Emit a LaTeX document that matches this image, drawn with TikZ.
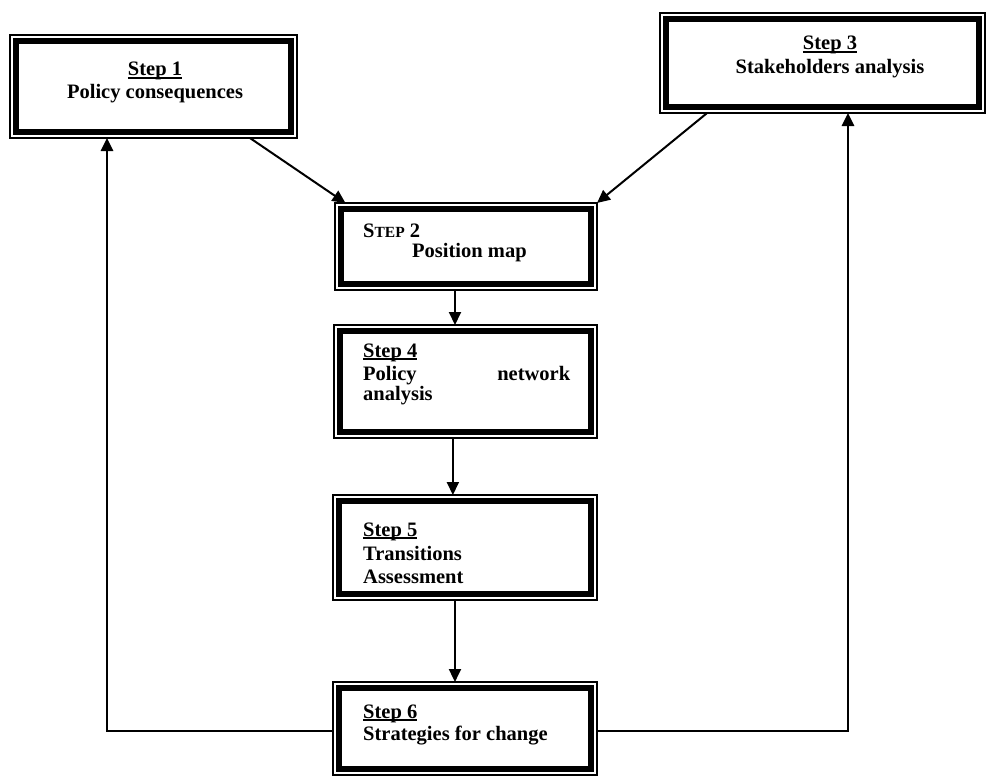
\documentclass[tikz,border=0pt]{standalone}
\usepackage{fontspec}
\setmainfont{Liberation Serif}
\usetikzlibrary{arrows.meta,calc}
\newcommand{\stepul}[1]{\setbox0\hbox{#1}\rlap{\rule[-2.6pt]{\wd0}{1.4pt}}\box0}
\begin{document}
\begin{tikzpicture}[x=1pt,y=-1pt,
 stepbox/.style={draw,line width=1.5pt,rectangle,inner sep=0pt,outer sep=0pt,
   path picture={\draw[line width=6pt] ([xshift=5.8pt,yshift=5.8pt]path picture bounding box.south west) rectangle ([xshift=-5.8pt,yshift=-5.8pt]path picture bounding box.north east);}},
 lbl/.style={font=\bfseries\fontsize{20.5}{23}\selectfont, inner sep=0pt, anchor=base west},
 clbl/.style={lbl, anchor=base},
 conn/.style={line width=2pt, -{Triangle[length=13pt,width=12pt]}},
 loopconn/.style={conn, line width=2.8pt},
]
\useasboundingbox (0,0) rectangle (988,776);

% boxes
\node[stepbox, minimum width=287pt, minimum height=103pt] (b1) at (153.5,86.5) {};
\node[stepbox, minimum width=325pt, minimum height=100pt] (b3) at (822.5,63) {};
\node[stepbox, minimum width=262pt, minimum height=87pt] (b2) at (466,246.5) {};
\node[stepbox, minimum width=263pt, minimum height=113pt] (b4) at (465.5,381.5) {};
\node[stepbox, minimum width=264pt, minimum height=105pt] (b5) at (465,547.5) {};
\node[stepbox, minimum width=264pt, minimum height=93pt] (b6) at (465,728.5) {};

% labels
\node[clbl] (t1a) at (155,76) {\stepul{Step 1}};
\node[clbl] (t1b) at (155,98) {Policy consequences};
\node[clbl] (t3a) at (830,50) {\stepul{Step 3}};
\node[clbl] (t3b) at (830,74) {Stakeholders analysis};
\node[lbl] (t2a) at (363,237) {S{\fontsize{15.5}{18}\selectfont TEP} 2};
\node[lbl] (t2b) at (412,257) {Position map};
\node[lbl] (t4a) at (363,357) {\stepul{Step 4}};
\node[lbl] (t4b) at (363,380) {\hbox to 207pt{Policy\hfill network}};
\node[lbl] (t4c) at (363,400) {analysis};
\node[lbl] (t5a) at (363,536) {\stepul{Step 5}};
\node[lbl] (t5b) at (363,560) {Transitions};
\node[lbl] (t5c) at (363,583) {Assessment};
\node[lbl] (t6a) at (363,718) {\stepul{Step 6}};
\node[lbl] (t6b) at (363,740) {Strategies for change};

% connectors
\draw[conn] ($(b1.south west)!0.836!(b1.south east)$) -- ($(b2.north west)!0.04!(b2.north east)$);
\draw[conn] ($(b3.south west)!0.145!(b3.south east)$) -- (b2.north east);
\coordinate (p2) at ($(b2.south west)!0.458!(b2.south east)$);
\draw[conn] (p2) -- (p2 |- b4.north);
\coordinate (p4) at ($(b4.south west)!0.452!(b4.south east)$);
\draw[conn] (p4) -- (p4 |- b5.north);
\coordinate (p5) at ($(b5.south west)!0.462!(b5.south east)$);
\draw[conn] (p5) -- (p5 |- b6.north);
\coordinate (lc) at (107,731);
\coordinate (rc) at (848,731);
\draw[loopconn] (b6.west |- lc) -- (lc) -- (lc |- b1.south);
\draw[loopconn] (b6.east |- rc) -- (rc) -- (rc |- b3.south);
\end{tikzpicture}
\end{document}
